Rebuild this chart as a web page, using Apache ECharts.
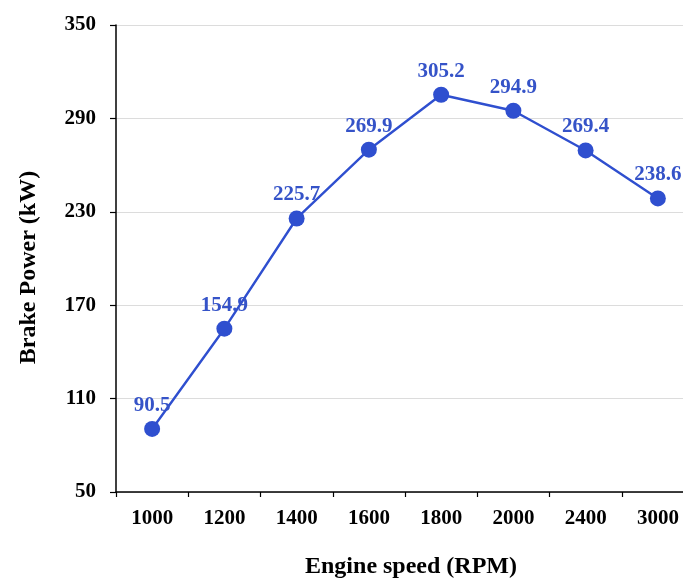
<!DOCTYPE html>
<html><head><meta charset="utf-8">
<script src="https://cdn.jsdelivr.net/npm/echarts@6/dist/echarts.min.js"></script>
<style>html,body{margin:0;padding:0;background:#fff}#c{width:683px;height:579px}</style>
</head><body><div id="c"></div>
<script>
const categories = ['1000','1200','1400','1600','1800','2000','2400','3000'];
const brakePower = [90.5, 154.9, 225.7, 269.9, 305.2, 294.9, 269.4, 238.6];
const yTicks = [50, 110, 170, 230, 290, 350];

const font = '"Liberation Serif", "Times New Roman", serif';
const chart = echarts.init(document.getElementById('c'));
chart.setOption({
  animation: false,
  grid: {left: 116, width: 578, top: 25, height: 467, containLabel: false, outerBoundsMode: 'none'},
  xAxis: {
    type: 'category', data: categories, boundaryGap: true,
    axisLine: {lineStyle: {color: '#000', width: 1.5}},
    axisTick: {show: true, length: 5, lineStyle: {color: '#000', width: 1.2}},
    axisLabel: {color: '#000', fontFamily: font, fontWeight: 'bold', fontSize: 21, margin: 16},
    name: 'Engine speed (RPM)', nameLocation: 'middle', nameGap: 63,
    nameTextStyle: {color: '#000', fontFamily: font, fontWeight: 'bold', fontSize: 24, padding: [0, 0, 0, 12]}
  },
  yAxis: {
    type: 'value', min: yTicks[0], max: yTicks[yTicks.length-1], interval: 60,
    axisLine: {show: true, lineStyle: {color: '#000', width: 1.5}},
    axisTick: {show: true, length: 6, lineStyle: {color: '#000', width: 1.2}},
    axisLabel: {color: '#000', fontFamily: font, fontWeight: 'bold', fontSize: 21, margin: 20},
    splitLine: {lineStyle: {color: '#dcdcdc', width: 1.2}},
    name: 'Brake Power (kW)', nameLocation: 'middle', nameGap: 75, nameRotate: 90,
    nameTextStyle: {color: '#000', fontFamily: font, fontWeight: 'bold', fontSize: 24, padding: [0, 18, 0, 0]}
  },
  series: [{
    type: 'line', data: brakePower,
    symbol: 'circle', symbolSize: 16,
    lineStyle: {color: '#2f4fcf', width: 2.4},
    itemStyle: {color: '#2f4fcf'},
    label: {show: true, position: 'top', distance: 5, color: '#3553c8', fontFamily: font, fontWeight: 'bold', fontSize: 21}
  }]
});
</script></body></html>
